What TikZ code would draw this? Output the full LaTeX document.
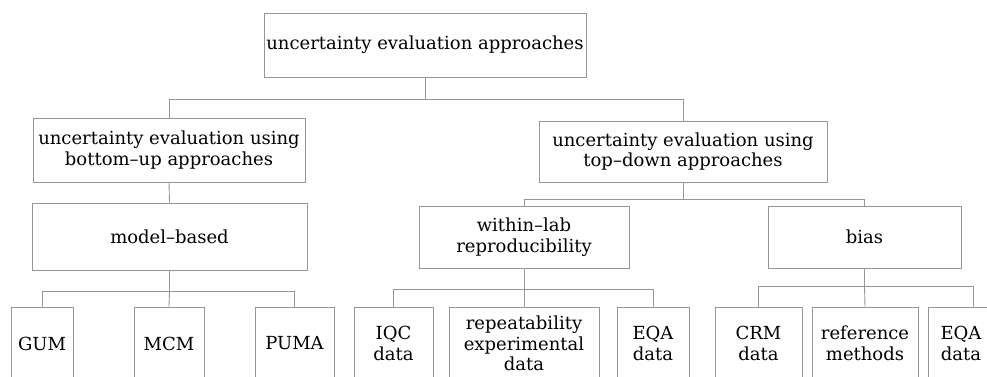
\documentclass[tikz,border=0pt]{standalone}
\usepackage{fontspec}
\setmainfont{DejaVu Serif}
\definecolor{boxgray}{RGB}{150,150,150}
\tikzset{
  bx/.style={draw=boxgray, line width=0.9pt, rectangle, inner sep=0pt, align=center,
    font=\fontsize{18}{20.7}\selectfont},
  cn/.style={draw=boxgray, line width=0.9pt}
}
\newcommand{\bxat}[6]{% name, left, top, right, bottom, text
  \node[bx, minimum width={#4-#2}, minimum height={#5-#3}] (#1) at ({(#2+#4)/2},{(#3+#5)/2}) {#6};}
\begin{document}
\begin{tikzpicture}[x=1pt,y=-1pt]
\useasboundingbox (0,0) rectangle (987,376);
\clip (0,0) rectangle (987,376);
\bxat{root}{264}{13}{586}{77}{uncertainty evaluation approaches}
\bxat{bu}{33}{118}{305}{182}{uncertainty evaluation using\\bottom--up approaches}
\bxat{td}{539}{121}{827}{182}{uncertainty evaluation using\\top--down approaches}
\bxat{mb}{32}{203}{307}{270}{model--based}
\bxat{wl}{419}{206}{629}{268}{within--lab\\reproducibility}
\bxat{bias}{768}{206}{961}{268}{bias}
\bxat{gum}{11}{307}{73}{380}{GUM}
\bxat{mcm}{134}{307}{204}{380}{MCM}
\bxat{puma}{255}{307}{334}{380}{PUMA}
\bxat{iqc}{354}{307}{433}{380}{IQC\\data}
\bxat{rep}{449}{307}{599}{380}{repeatability\\experimental\\data}
\bxat{eqa}{617}{307}{689}{380}{EQA\\data}
\bxat{crm}{715}{307}{802}{380}{CRM\\data}
\bxat{ref}{812}{307}{918}{380}{reference\\methods}
\bxat{eqb}{928}{307}{994}{380}{EQA\\data}
% connectors
\coordinate (j0) at (425,99);
\draw[cn] (root.south) -- (j0) -| (bu.north);
\draw[cn] (j0) -| (td.north);
\draw[cn] (bu.south) -- (mb.north);
\coordinate (j1) at (683,199);
\draw[cn] (td.south) -- (j1) -| (wl.north);
\draw[cn] (j1) -| (bias.north);
\coordinate (j2) at (169.5,291);
\draw[cn] (mb.south) -- (j2) -| (gum.north);
\draw[cn] (j2) -- (mcm.north);
\draw[cn] (j2) -| (puma.north);
\coordinate (j3) at (524,289);
\draw[cn] (wl.south) -- (j3) -| (iqc.north);
\draw[cn] (j3) -- (rep.north);
\draw[cn] (j3) -| (eqa.north);
\coordinate (j4) at (864.5,286);
\draw[cn] (bias.south) -- (j4) -| (crm.north);
\draw[cn] (j4) -- (ref.north);
\draw[cn] (j4) -| ([xshift=12pt]eqb.north);
\end{tikzpicture}
\end{document}
